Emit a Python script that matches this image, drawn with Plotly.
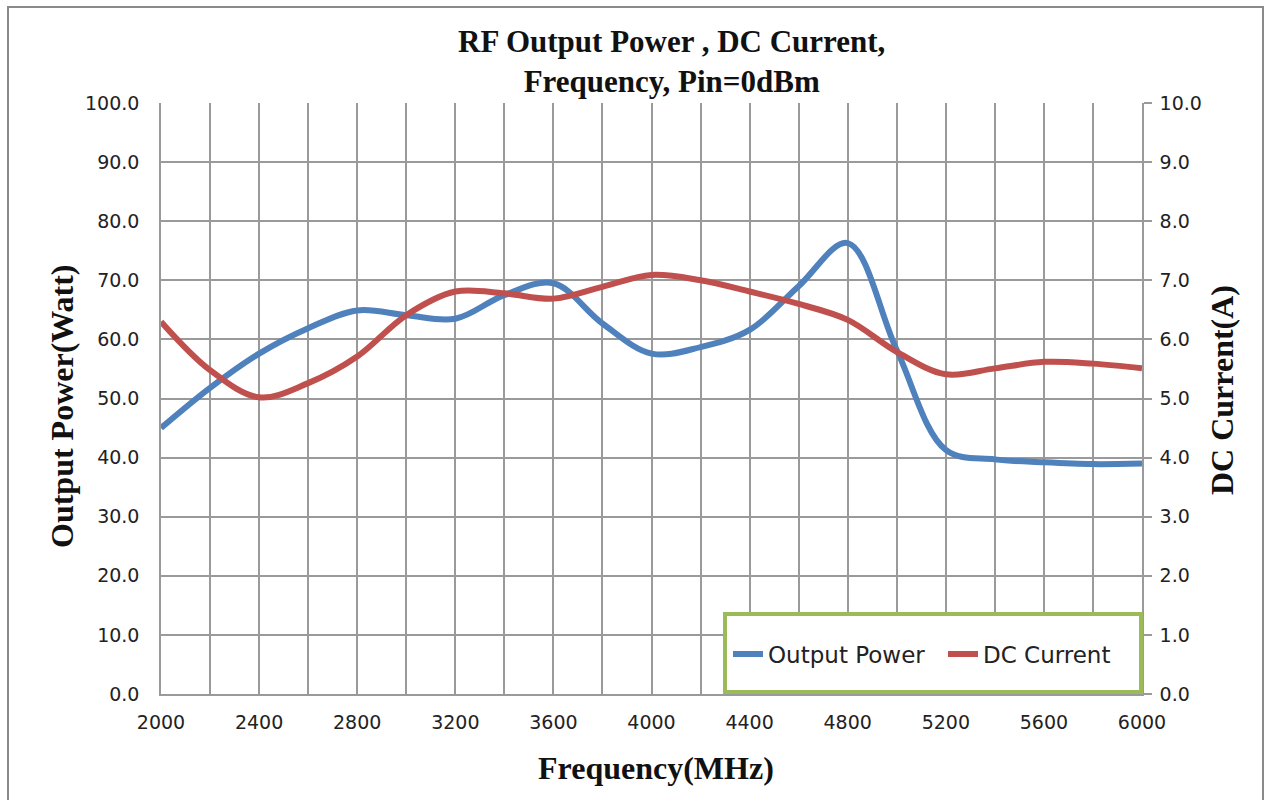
import plotly.graph_objects as go

freq = [2000, 2200, 2400, 2600, 2800, 3000, 3200, 3400, 3600, 3800, 4000,
        4200, 4400, 4600, 4800, 5000, 5200, 5400, 5600, 5800, 6000]
output_power = [45.0, 51.8, 57.6, 61.9, 64.9, 64.1, 63.5, 67.5, 69.5, 62.7, 57.6,
                58.7, 61.6, 69.0, 76.3, 58.2, 41.3, 39.7, 39.2, 38.9, 39.0]
dc_current = [6.30, 5.48, 5.02, 5.26, 5.71, 6.41, 6.81, 6.78, 6.69, 6.89, 7.09,
              7.00, 6.81, 6.60, 6.33, 5.79, 5.41, 5.51, 5.62, 5.59, 5.51]

title_text = "RF Output Power , DC Current,<br>Frequency, Pin=0dBm"
x_title = "Frequency(MHz)"
y_title = "Output Power(Watt)"
y2_title = "DC Current(A)"

W, H = 1265, 800
L, R, T, B = 161, 1142, 103, 694

def px(x):
    return (x - L) / (R - L)

def py(y):
    return (B - y) / (B - T)

grid = "#9a9a9a"
tickfont = dict(family="DejaVu Sans", size=19, color="#222")
serif = "Liberation Serif"

fig = go.Figure()
fig.add_trace(go.Scatter(x=freq, y=output_power, name="Output Power", mode="lines",
                         line=dict(color="#4F81BD", width=6, shape="spline", smoothing=1.0)))
fig.add_trace(go.Scatter(x=freq, y=dc_current, name="DC Current", mode="lines", yaxis="y2",
                         line=dict(color="#C0504D", width=6, shape="spline", smoothing=1.0)))

fig.update_layout(
    width=W, height=H,
    margin=dict(l=L, r=W - R, t=T, b=H - B, pad=0),
    paper_bgcolor="white", plot_bgcolor="white",
    showlegend=True,
    legend=dict(orientation="h", x=px(728), xanchor="left", y=py(654), yanchor="middle",
                bgcolor="rgba(0,0,0,0)", borderwidth=0,
                font=dict(family="DejaVu Sans", size=23, color="#222"),
                itemwidth=30, tracegroupgap=0, entrywidth=170),
    xaxis=dict(range=[2000, 6000], dtick=400, tick0=2000, showgrid=True, gridcolor=grid, gridwidth=1.5,
               minor=dict(dtick=200, showgrid=True, gridcolor=grid, gridwidth=1.5),
               showline=True, linecolor=grid, linewidth=1.5, ticks="", tickfont=tickfont,
               ticklabelstandoff=10, zeroline=False),
    yaxis=dict(range=[0, 100], dtick=10, tickformat=".1f", showgrid=True, gridcolor=grid, gridwidth=1.5,
               showline=True, linecolor=grid, linewidth=1.5, ticks="", tickfont=tickfont,
               ticklabelstandoff=16, zeroline=False),
    yaxis2=dict(range=[0, 10], dtick=1, tickformat=".1f", overlaying="y", side="right", showgrid=False,
                showline=True, linecolor=grid, linewidth=1.5, ticks="outside", ticklen=8,
                tickcolor=grid, tickwidth=1.5, tickfont=tickfont, ticklabelstandoff=4, zeroline=False),
)

# legend frame
fig.add_shape(type="rect", xref="paper", yref="paper", x0=px(725), x1=px(1141), y0=py(692), y1=py(614),
              line=dict(color="#9BBB59", width=4), fillcolor="white", layer="above")
# outer chart border
fig.add_shape(type="rect", xref="paper", yref="paper", x0=px(8), x1=px(1263), y0=py(806), y1=py(7),
              line=dict(color="#8a8a8a", width=2), fillcolor="rgba(0,0,0,0)", layer="above")

fig.add_annotation(text="<b>" + title_text + "</b>", xref="paper", yref="paper", x=px(671), y=py(61),
                   xanchor="center", yanchor="middle", showarrow=False, align="center",
                   font=dict(family=serif, size=31, color="#111"))
fig.add_annotation(text="<b>" + x_title + "</b>", xref="paper", yref="paper", x=px(656), y=py(768),
                   xanchor="center", yanchor="middle", showarrow=False,
                   font=dict(family=serif, size=32, color="#111"))
fig.add_annotation(text="<b>" + y_title + "</b>", xref="paper", yref="paper", x=px(62), y=py(406),
                   xanchor="center", yanchor="middle", showarrow=False, textangle=-90,
                   font=dict(family=serif, size=32, color="#111"))
fig.add_annotation(text="<b>" + y2_title + "</b>", xref="paper", yref="paper", x=px(1222), y=py(390),
                   xanchor="center", yanchor="middle", showarrow=False, textangle=-90,
                   font=dict(family=serif, size=32, color="#111"))

fig.write_html("out.html", config={"displayModeBar": False},
               post_script="document.body.style.margin='0';document.body.style.overflow='hidden';")
